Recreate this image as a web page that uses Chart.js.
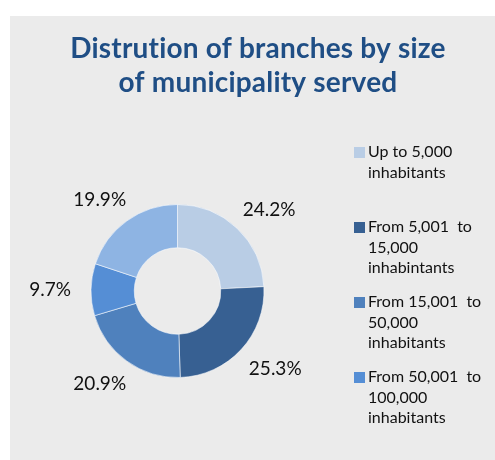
<!DOCTYPE html>
<html>
<head>
<meta charset="utf-8">
<script src="https://cdn.jsdelivr.net/npm/chart.js@4.4.1/dist/chart.umd.min.js"></script>
<style>
  html, body { margin: 0; padding: 0; background: #fff; }
  canvas { display: block; }
</style>
</head>
<body>
<canvas id="branchChart" width="495" height="460"></canvas>
<script>
const titleLines = ['Distrution of branches by size', 'of municipality served'];
const categories = [
  ['Up to 5,000', 'inhabitants'],
  ['From 5,001  to', '15,000', 'inhabintants'],
  ['From 15,001  to', '50,000', 'inhabitants'],
  ['From 50,001  to', '100,000', 'inhabitants'],
  ['More than', '100,000', 'inhabitants']
];
const shares = [24.2, 25.3, 20.9, 9.7, 19.9];
const sliceColors = ['#b9cde5', '#376092', '#4f81bd', '#558ed5', '#8eb4e3'];

const FONT = 'Lato, "Noto Sans", sans-serif';

// grey panel + two-line title
const panelPlugin = {
  id: 'panel',
  beforeDraw(chart) {
    const ctx = chart.ctx;
    ctx.save();
    ctx.fillStyle = '#ffffff';
    ctx.fillRect(0, 0, chart.width, chart.height);
    ctx.fillStyle = '#ebebeb';
    ctx.fillRect(10, 16, chart.width - 10, chart.height - 16);
    ctx.fillStyle = '#1f4e85';
    ctx.font = 'bold 28px ' + FONT;
    ctx.letterSpacing = '0.2px'; // also keeps "ti" from ligaturing
    ctx.textAlign = 'center';
    ctx.textBaseline = 'alphabetic';
    titleLines.forEach((line, i) => ctx.fillText(line, 258, 58 + i * 33.5));
    ctx.restore();
  }
};

// percentage labels just outside each slice
const sliceLabels = {
  id: 'sliceLabels',
  afterDatasetsDraw(chart) {
    const ctx = chart.ctx;
    const meta = chart.getDatasetMeta(0);
    ctx.save();
    ctx.font = '19px ' + FONT;
    ctx.fillStyle = '#111';
    ctx.textAlign = 'center';
    ctx.textBaseline = 'middle';
    meta.data.forEach((arc, i) => {
      const p = arc.getProps(['x', 'y', 'startAngle', 'endAngle', 'outerRadius'], true);
      const mid = (p.startAngle + p.endAngle) / 2;
      const txt = shares[i].toFixed(1) + '%';
      const w = ctx.measureText(txt).width;
      const h = 14;
      const r = p.outerRadius + 20;
      const cx = p.x + Math.cos(mid) * (r + w / 2);
      const cy = p.y + Math.sin(mid) * (r + h / 2);
      ctx.fillText(txt, cx, cy + 1);
    });
    ctx.restore();
  }
};

// legend on the right, fixed slot per entry, entries that do not fit are dropped
const sideLegend = {
  id: 'sideLegend',
  afterDraw(chart) {
    const ctx = chart.ctx;
    const x0 = 354, y0 = 147, slot = 75, lineH = 20.5;
    ctx.save();
    ctx.font = '16px ' + FONT;
    ctx.fillStyle = '#111';
    ctx.textAlign = 'left';
    ctx.textBaseline = 'alphabetic';
    categories.forEach((lines, i) => {
      const top = y0 + i * slot;
      if (top + lines.length * lineH > chart.height) return;
      ctx.fillStyle = sliceColors[i];
      ctx.fillRect(x0, top, 11, 11);
      ctx.fillStyle = '#111';
      lines.forEach((l, j) => ctx.fillText(l, x0 + 14, top + 10 + j * lineH));
    });
    ctx.restore();
  }
};

new Chart(document.getElementById('branchChart'), {
  type: 'doughnut',
  data: {
    labels: categories.map(c => c.join(' ')),
    datasets: [{
      data: shares,
      backgroundColor: sliceColors,
      borderColor: 'rgba(255,255,255,0.55)',
      borderWidth: 1
    }]
  },
  options: {
    responsive: false,
    animation: false,
    devicePixelRatio: 1,
    cutout: '50%',
    layout: { padding: { left: 90, top: 204, right: 230, bottom: 82 } },
    plugins: {
      legend: { display: false },
      title: { display: false },
      tooltip: { enabled: false }
    }
  },
  plugins: [panelPlugin, sliceLabels, sideLegend]
});
</script>
</body>
</html>
